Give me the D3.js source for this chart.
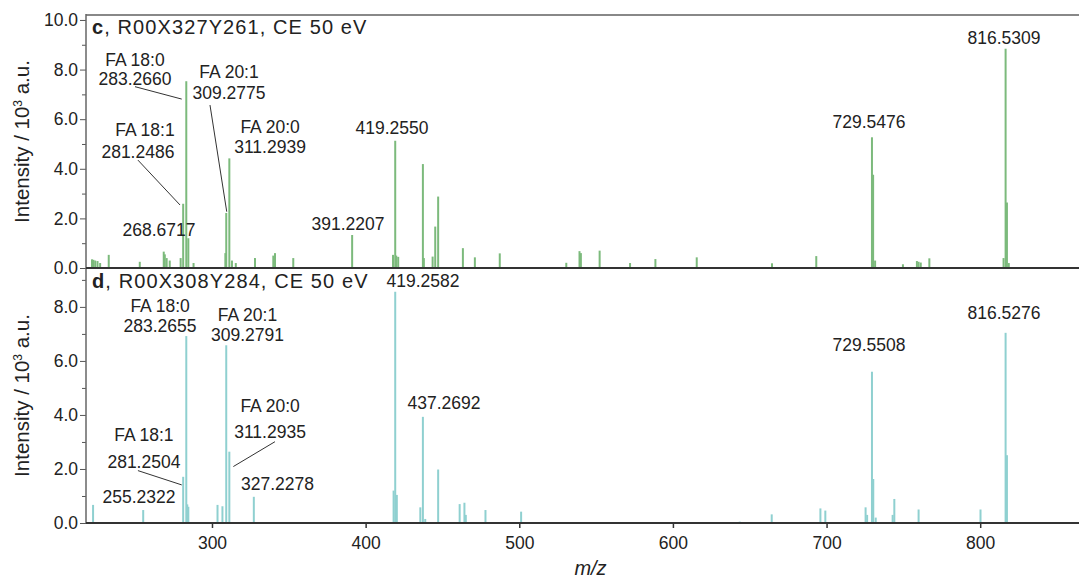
<!DOCTYPE html>
<html>
<head>
<meta charset="utf-8">
<script src="https://cdn.jsdelivr.net/npm/d3@7"></script>
<style>
  html, body { margin: 0; padding: 0; background: #fff; }
  svg { display: block; font-family: "Liberation Sans", Arial, sans-serif; }
</style>
</head>
<body>
<svg id="chart" width="1079" height="582"></svg>
<script>
// ---------------- data ----------------
const panelTitles = [["c", ", R00X327Y261, CE 50 eV"], ["d", ", R00X308Y284, CE 50 eV"]];

// panel c (top) peaks
const cMz = [221.9, 222.8, 224.0, 225.5, 227.2, 232.8, 253.0, 268.6, 269.3, 270.5, 272.5, 279.6,
  281.25, 283.27, 284.6, 288.0, 308.7, 309.28, 311.29, 313.0, 315.5, 328.0, 339.9, 341.0, 352.9,
  391.22, 417.8, 419.26, 419.9, 421.2, 437.27, 437.9, 443.6, 445.3, 447.2, 463.3, 471.1, 487.3,
  530.6, 539.2, 540.1, 552.3, 572.1, 588.6, 615.5, 664.5, 693.3, 729.55, 730.3, 731.6, 749.7,
  758.8, 759.9, 761.3, 766.9, 815.2, 816.53, 817.4, 818.6];
const cInt = [0.35, 0.33, 0.30, 0.28, 0.20, 0.53, 0.25, 0.66, 0.55, 0.40, 0.30, 0.40,
  2.59, 7.53, 1.20, 0.20, 0.60, 2.22, 4.42, 0.30, 0.20, 0.40, 0.50, 0.60, 0.40,
  1.33, 0.53, 5.13, 0.50, 0.45, 4.19, 0.40, 0.46, 1.67, 2.88, 0.80, 0.43, 0.59,
  0.21, 0.68, 0.60, 0.70, 0.20, 0.36, 0.43, 0.19, 0.48, 5.27, 3.76, 0.30, 0.15,
  0.28, 0.25, 0.22, 0.39, 0.40, 8.84, 2.64, 0.20];

// panel d (bottom) peaks
const dMz = [222.6, 255.23, 281.25, 283.27, 283.9, 284.6, 303.6, 306.8, 309.28, 311.29, 327.23,
  418.2, 419.26, 420.3, 435.6, 437.27, 438.8, 447.2, 461.2, 464.3, 465.2, 478.0, 501.2,
  643.5, 664.3, 696.0, 699.2, 725.4, 726.4, 729.55, 730.4, 732.0, 743.0, 744.1, 759.9,
  800.2, 816.53, 817.4];
const dInt = [0.67, 0.48, 1.71, 6.92, 0.69, 0.60, 0.67, 0.62, 6.58, 2.64, 0.97,
  1.20, 8.56, 1.04, 0.58, 3.93, 0.15, 1.98, 0.70, 0.75, 0.30, 0.48, 0.42,
  0.05, 0.32, 0.54, 0.46, 0.58, 0.30, 5.60, 1.63, 0.20, 0.30, 0.89, 0.50,
  0.50, 7.04, 2.51];

// annotation texts with anchor in data units (m/z, intensity)
const cLabels = ["FA 18:0", "283.2660", "FA 20:1", "309.2775", "FA 18:1", "281.2486", "FA 20:0", "311.2939",
  "268.6717", "391.2207", "419.2550", "729.5476", "816.5309"];
const cLabelMz = [249.9, 249.9, 311.1, 311.1, 256.4, 251.8, 337.8, 337.8, 265.5, 388.5, 417.2, 727.6, 815.5];
const cLabelInt = [8.38, 7.62, 7.90, 7.06, 5.56, 4.68, 5.69, 4.88, 1.53, 1.77, 5.65, 5.89, 9.27];
// leader lines: [mz1, int1, mz2, int2]
const cLeaders = [[249.9, 7.31, 280.3, 6.81], [298.7, 6.57, 309.6, 2.27], [251.8, 4.35, 279.2, 2.54]];

const dLabels = ["419.2582", "FA 18:0", "283.2655", "FA 20:1", "309.2791", "FA 20:0", "311.2935",
  "FA 18:1", "281.2504", "255.2322", "327.2278", "437.2692", "729.5508", "816.5276"];
const dLabelMz = [437.3, 266.2, 266.2, 323.1, 323.1, 337.8, 337.8, 255.7, 255.7, 252.5, 342.6, 451.0, 727.6, 815.5];
const dLabelInt = [8.97, 8.04, 7.30, 7.71, 6.96, 4.33, 3.38, 3.26, 2.27, 0.97, 1.44, 4.46, 6.59, 7.77];
const dLeaders = [[251.8, 1.94, 280.3, 1.41], [341.0, 3.01, 313.9, 2.09]];

const xTicks = [300, 400, 500, 600, 700, 800];
const cYTicks = [0, 2, 4, 6, 8, 10];
const dYTicks = [0, 2, 4, 6, 8];
const minorYTicks = [1, 3, 5, 7, 9];
const xDomain = [218, 863];
const cYDomain = [0, 10.2];
const dYDomain = [0, 9.44];

// ---------------- drawing ----------------
const svg = d3.select("#chart");
const left = 86, right = 1077;
const cTop = 15, mid = 268, bottom = 523;
const fontSize = 17.5;
const textColor = "#222";

const x = d3.scaleLinear().domain(xDomain).range([left, right]);
const yc = d3.scaleLinear().domain(cYDomain).range([mid, cTop]);
const yd = d3.scaleLinear().domain(dYDomain).range([bottom, mid]);

function drawPanel(y, mz, inten, color, yTicks, labels, lMz, lInt, leaders, title, titleY) {
  const g = svg.append("g");
  // bars
  g.selectAll("line.bar").data(d3.range(mz.length)).join("line")
    .attr("class", "bar")
    .attr("x1", i => x(mz[i])).attr("x2", i => x(mz[i]))
    .attr("y1", y(0)).attr("y2", i => y(inten[i]))
    .attr("stroke", color).attr("stroke-width", 2);

  // major y axis
  const ax = g.append("g").attr("transform", `translate(${left},0)`)
    .call(d3.axisLeft(y).tickValues(yTicks).tickFormat(d3.format(".1f")).tickSize(6).tickPadding(2));
  ax.select(".domain").remove();
  ax.selectAll(".tick line").attr("stroke", "#555");
  ax.selectAll(".tick text").attr("font-size", fontSize).attr("fill", textColor)
    .attr("font-family", "Liberation Sans, Arial, sans-serif");
  // minor ticks
  const mx = g.append("g").attr("transform", `translate(${left},0)`)
    .call(d3.axisLeft(y).tickValues(minorYTicks).tickFormat("").tickSize(4));
  mx.select(".domain").remove();
  mx.selectAll(".tick line").attr("stroke", "#555");

  // leaders
  g.selectAll("line.leader").data(leaders).join("line")
    .attr("class", "leader")
    .attr("x1", d => x(d[0])).attr("y1", d => y(d[1]))
    .attr("x2", d => x(d[2])).attr("y2", d => y(d[3]))
    .attr("stroke", "#333").attr("stroke-width", 1);

  // labels
  g.selectAll("text.lab").data(d3.range(labels.length)).join("text")
    .attr("class", "lab")
    .attr("x", i => x(lMz[i])).attr("y", i => y(lInt[i]))
    .attr("dy", "0.36em")
    .attr("text-anchor", "middle")
    .attr("font-size", fontSize).attr("fill", textColor)
    .text(i => labels[i]);

  // title
  const t = g.append("text").attr("x", left + 6).attr("y", titleY)
    .attr("font-size", 20).attr("fill", textColor).attr("letter-spacing", 1.1);
  t.append("tspan").attr("font-weight", "bold").text(title[0]);
  t.append("tspan").text(title[1]);
}

drawPanel(yc, cMz, cInt, "#7cba7c", cYTicks, cLabels, cLabelMz, cLabelInt, cLeaders, panelTitles[0], 34);
drawPanel(yd, dMz, dInt, "#8fd0d0", dYTicks, dLabels, dLabelMz, dLabelInt, dLeaders, panelTitles[1], 288);

// frame lines
svg.append("line").attr("x1", left).attr("x2", 1079).attr("y1", cTop).attr("y2", cTop)
  .attr("stroke", "#888").attr("stroke-width", 2);
svg.append("line").attr("x1", left).attr("x2", left).attr("y1", cTop - 1).attr("y2", bottom)
  .attr("stroke", "#666").attr("stroke-width", 1.5);
svg.append("line").attr("x1", left).attr("x2", 1079).attr("y1", mid).attr("y2", mid)
  .attr("stroke", "#333").attr("stroke-width", 1.8);

// x axis
const xa = svg.append("g").attr("transform", `translate(0,${bottom})`)
  .call(d3.axisBottom(x).tickValues(xTicks).tickFormat(d3.format("d")).tickSize(5).tickPadding(9));
xa.select(".domain").remove();
xa.selectAll(".tick line").attr("stroke", "#333").attr("stroke-width", 1.5);
xa.selectAll(".tick text").attr("font-size", fontSize).attr("fill", textColor)
  .attr("font-family", "Liberation Sans, Arial, sans-serif");
svg.append("line").attr("x1", left).attr("x2", 1079).attr("y1", bottom).attr("y2", bottom)
  .attr("stroke", "#333").attr("stroke-width", 1.8);

// axis titles
[(mid + cTop) / 2, (bottom + mid) / 2].forEach(cy => {
  svg.append("text")
    .attr("transform", `translate(22,${cy}) rotate(-90)`)
    .attr("text-anchor", "middle").attr("dy", "0.35em")
    .attr("font-size", 20.5).attr("fill", textColor)
    .html('Intensity / 10<tspan baseline-shift="super" font-size="12">3</tspan> a.u.');
});
svg.append("text").attr("x", (left + right) / 2 + 9).attr("y", 575)
  .attr("text-anchor", "middle").attr("font-size", 20).attr("font-style", "italic")
  .attr("fill", textColor).text("m/z");
</script>
</body>
</html>
